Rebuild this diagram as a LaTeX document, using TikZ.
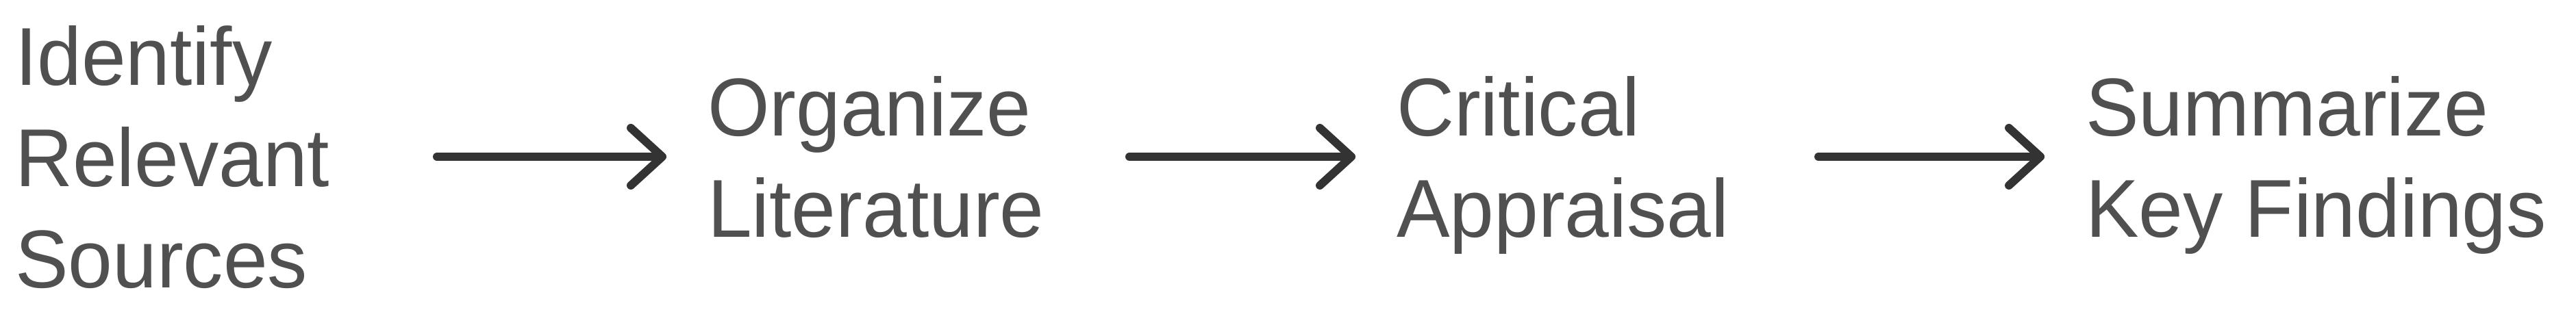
\documentclass[tikz,border=0pt]{standalone}
\usepackage{fontspec}
\setmainfont{Liberation Sans}[FakeStretch=0.97]
\usetikzlibrary{arrows.meta}
\definecolor{txtgray}{HTML}{505050}
\definecolor{arrgray}{HTML}{333333}
\tikzset{
  label/.style={anchor=west, inner sep=0pt, outer sep=0pt, align=left,
    text=txtgray, font=\fontsize{12}{14.8}\selectfont},
  flow/.style={draw=arrgray, line width=1.2pt, line cap=round,
    -{Straight Barb[length=4.6pt, width=8.4pt, line cap=round, line join=round]}}
}
\begin{document}
\begin{tikzpicture}
\useasboundingbox[fill=white] (0pt,0pt) rectangle (376.1pt,45.3pt);
\node[label] (n1) at (2.2pt,20.96pt) {\strut Identify\\\strut Relevant\\\strut Sources};
\node[label] (n2) at (103.3pt,20.96pt) {\strut Organize\\\strut Literature};
\node[label] (n3) at (203.9pt,20.96pt) {\strut Critical\\\strut Appraisal};
\node[label] (n4) at (304.5pt,20.96pt) {\strut Summarize\\\strut Key Findings};
\draw[flow] ([shift={(61.6pt,1.44pt)}]n1.west) -- ([shift={(-6pt,1.44pt)}]n2.west);
\draw[flow] ([shift={(61.6pt,1.44pt)}]n2.west) -- ([shift={(-6pt,1.44pt)}]n3.west);
\draw[flow] ([shift={(61.6pt,1.44pt)}]n3.west) -- ([shift={(-6pt,1.44pt)}]n4.west);
\end{tikzpicture}
\end{document}
